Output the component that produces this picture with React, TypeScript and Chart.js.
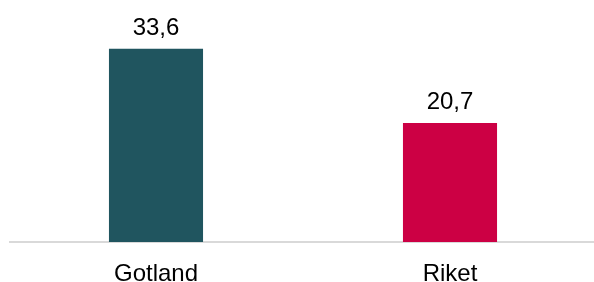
import React, { useEffect, useRef } from "react";
import { Chart, registerables } from "chart.js";

Chart.register(...registerables);

const categories = ["Gotland", "Riket"];
const values = [33.6, 20.7];
const barColors = ["#20555F", "#CC0044"];

const FONT = "'Liberation Sans', Arial, sans-serif";

const valueLabelPlugin = {
  id: "valueLabels",
  afterDatasetsDraw(chart: any) {
    const { ctx } = chart;
    const meta = chart.getDatasetMeta(0);
    ctx.save();
    ctx.font = `24px ${FONT}`;
    ctx.fillStyle = "#000000";
    ctx.textAlign = "center";
    ctx.textBaseline = "alphabetic";
    meta.data.forEach((bar: any, i: number) => {
      const v = values[i];
      ctx.fillText(v.toFixed(1).replace(".", ","), bar.x, bar.y - 14);
    });
    ctx.restore();
  },
};

export default function App() {
  const ref = useRef<HTMLCanvasElement>(null);
  useEffect(() => {
    if (!ref.current) return;
    const chart = new Chart(ref.current, {
      type: "bar",
      data: {
        labels: categories,
        datasets: [
          {
            data: values,
            backgroundColor: barColors,
            barPercentage: 0.64,
            categoryPercentage: 0.5,
          },
        ],
      },
      options: {
        responsive: true,
        maintainAspectRatio: false,
        animation: false,
        layout: { padding: { top: 12, bottom: 0, left: 0, right: 0 } },
        plugins: { legend: { display: false }, tooltip: { enabled: false } },
        scales: {
          y: { display: false, min: 0, max: 40 },
          x: {
            grid: { display: false },
            border: { display: true, color: "#D9D9D9", width: 2 },
            afterFit: (scale: any) => {
              scale.height = 40;
            },
            ticks: {
              color: "#000000",
              padding: 10,
              maxRotation: 0,
              font: { size: 24, family: FONT },
            },
          },
        },
      },
      plugins: [valueLabelPlugin],
    });
    return () => chart.destroy();
  }, []);
  return (
    <div style={{ position: "fixed", left: 9, top: 0, width: 588, height: 282 }}>
      <canvas ref={ref} />
    </div>
  );
}
